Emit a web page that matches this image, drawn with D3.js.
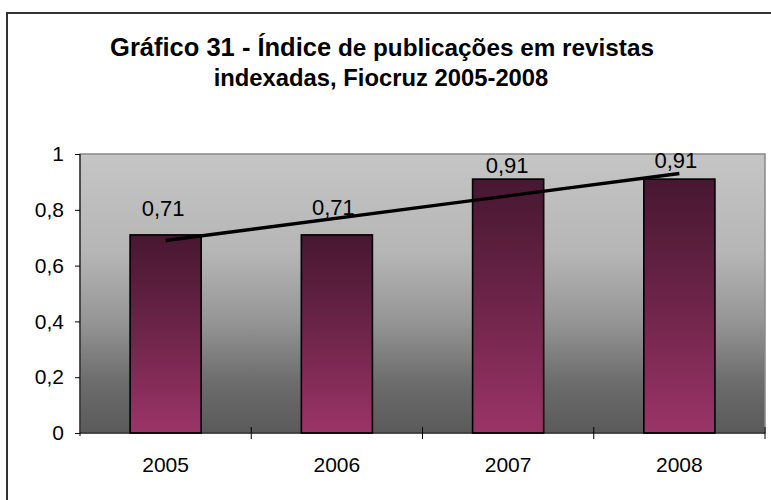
<!DOCTYPE html>
<html><head><meta charset="utf-8">
<script src="https://cdn.jsdelivr.net/npm/d3@7"></script>
<style>body{margin:0;background:#fff}svg{display:block;font-family:"Liberation Sans",Arial,sans-serif}</style>
</head><body>
<script>
// ---- data ----
const categories = ["2005", "2006", "2007", "2008"];
const values = [0.71, 0.71, 0.91, 0.91];
const valueLabels = ["0,71", "0,71", "0,91", "0,91"];
const yTicks = [0, 0.2, 0.4, 0.6, 0.8, 1];
const yTickLabels = ["0", "0,2", "0,4", "0,6", "0,8", "1"];
const titleLine1Big = "Gráfico 31 - Índice";
const titleLine1Rest = " de publicações em revistas";
const titleLine2 = "indexadas, Fiocruz 2005-2008";

// ---- layout ----
const W = 771, H = 500;
const plot = {left: 80, right: 765, top: 154, bottom: 433};
const labelNudge = [[-2.5, -19], [-3.5, -20], [-1, -6], [-3.5, -11]];

const svg = d3.select("body").append("svg").attr("width", W).attr("height", H);
const defs = svg.append("defs");
const bg = defs.append("linearGradient").attr("id", "bg").attr("x1", 0).attr("y1", 0).attr("x2", 0).attr("y2", 1);
[[0, "#c5c5c5"], [0.35, "#b6b6b6"], [0.6, "#959595"], [0.82, "#6c6c6c"], [1, "#5a5a5a"]]
  .forEach(([o, c]) => bg.append("stop").attr("offset", o).attr("stop-color", c));
const bar = defs.append("linearGradient").attr("id", "bar").attr("x1", 0).attr("y1", 0).attr("x2", 0).attr("y2", 1);
[[0, "#471731"], [0.5, "#6e2549"], [1, "#9b3468"]]
  .forEach(([o, c]) => bar.append("stop").attr("offset", o).attr("stop-color", c));

// outer border
svg.append("rect").attr("x", 7).attr("y", 13).attr("width", 800).attr("height", 600)
  .attr("fill", "#fff").attr("stroke", "#333").attr("stroke-width", 2);

// title
const t1 = svg.append("text").attr("x", 382).attr("y", 56).attr("text-anchor", "middle")
  .attr("font-weight", "bold").attr("fill", "#000");
t1.append("tspan").attr("font-size", 25.5).text(titleLine1Big);
t1.append("tspan").attr("font-size", 24.3).text(titleLine1Rest);
svg.append("text").attr("x", 381).attr("y", 86).attr("text-anchor", "middle")
  .attr("font-weight", "bold").attr("font-size", 23.8).text(titleLine2);

const x = d3.scaleBand().domain(categories).range([plot.left, plot.right]).paddingInner(0).paddingOuter(0);
const y = d3.scaleLinear().domain([0, 1]).range([plot.bottom, plot.top]);
const barW = x.bandwidth() * 0.415;

// plot background
svg.append("rect").attr("x", plot.left).attr("y", plot.top)
  .attr("width", plot.right - plot.left).attr("height", plot.bottom - plot.top)
  .attr("fill", "url(#bg)").attr("stroke", "#888").attr("stroke-width", 1.5);

// bars
svg.selectAll("rect.bar").data(values).join("rect").attr("class", "bar")
  .attr("x", (d, i) => x(categories[i]) + x.bandwidth() / 2 - barW / 2)
  .attr("y", d => y(d))
  .attr("width", barW)
  .attr("height", d => y(0) - y(d))
  .attr("fill", "url(#bar)").attr("stroke", "#000").attr("stroke-width", 1.6);

// axes
const yAxis = d3.axisLeft(y).tickValues(yTicks).tickSize(5).tickPadding(11)
  .tickFormat((d, i) => yTickLabels[i]);
const gy = svg.append("g").attr("transform", `translate(${plot.left},0)`).call(yAxis);
gy.select(".domain").attr("stroke", "#000").attr("d", `M0,${plot.top}V${plot.bottom + 3}`);
gy.selectAll(".tick line").attr("stroke", "#000");
gy.selectAll(".tick text").attr("font-size", 21).attr("fill", "#000").attr("font-family", "Liberation Sans, Arial, sans-serif");

const xAxis = d3.axisBottom(x).tickSize(0).tickPadding(0);
const gx = svg.append("g").attr("transform", `translate(0,${plot.bottom})`).call(xAxis);
gx.select(".domain").attr("stroke", "#000").attr("d", `M${plot.left},0H${plot.right}`);
gx.selectAll(".tick text").attr("font-size", 21).attr("fill", "#000").attr("dy", null).attr("y", 38.5)
  .attr("font-family", "Liberation Sans, Arial, sans-serif");
// boundary ticks between categories
const bounds = categories.map(c => x(c) + x.bandwidth());
gx.selectAll("line.bound").data(bounds).join("line").attr("class", "bound")
  .attr("x1", d => d).attr("x2", d => d).attr("y1", -6).attr("y2", 6)
  .attr("stroke", "#000").attr("stroke-width", 1);

// linear trend line (least squares over data)
const n = values.length;
const xs = d3.range(1, n + 1);
const mx = d3.mean(xs), my = d3.mean(values);
const slope = d3.sum(xs, (xi, i) => (xi - mx) * (values[i] - my)) / d3.sum(xs, xi => (xi - mx) ** 2);
const icpt = my - slope * mx;
const trend = [[categories[0], slope * 1 + icpt], [categories[n - 1], slope * n + icpt]];
svg.append("path").datum(trend)
  .attr("d", d3.line().x(d => x(d[0]) + x.bandwidth() / 2).y(d => y(d[1])))
  .attr("stroke", "#000").attr("stroke-width", 3.4).attr("fill", "none");

// value labels
svg.selectAll("text.val").data(values).join("text").attr("class", "val")
  .attr("x", (d, i) => x(categories[i]) + x.bandwidth() / 2 + labelNudge[i][0])
  .attr("y", (d, i) => y(d) + labelNudge[i][1])
  .attr("text-anchor", "middle").attr("font-size", 22).attr("fill", "#000")
  .text((d, i) => valueLabels[i]);
</script>
</body></html>
